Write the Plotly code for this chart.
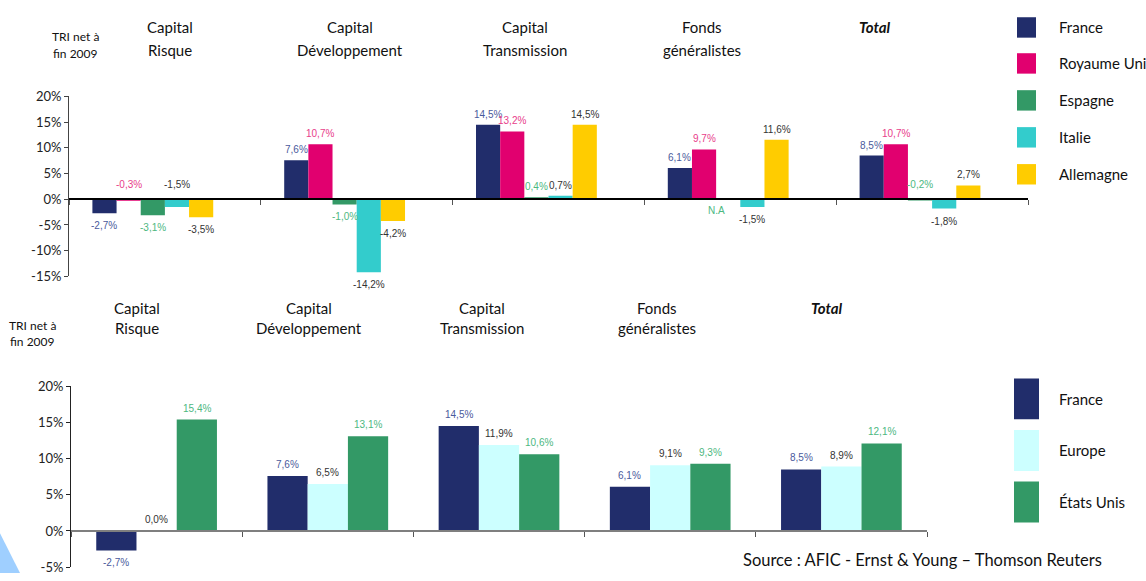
import plotly.graph_objects as go

W, H = 1146, 581

# ---------------- data ----------------
categories = ["Capital Risque", "Capital Développement", "Capital Transmission",
              "Fonds généralistes", "Total"]

top_series = ["France", "Royaume Uni", "Espagne", "Italie", "Allemagne"]
france_top = [-2.7, 7.6, 14.5, 6.1, 8.5]
uk_top = [-0.3, 10.7, 13.2, 9.7, 10.7]
espagne_top = [-3.1, -1.0, 0.4, None, -0.2]   # None = N.A
italie_top = [-1.5, -14.2, 0.7, -1.5, -1.8]
allemagne_top = [-3.5, -4.2, 14.5, 11.6, 2.7]

bottom_series = ["France", "Europe", "États Unis"]
france_bot = [-2.7, 7.6, 14.5, 6.1, 8.5]
europe_bot = [0.0, 6.5, 11.9, 9.1, 8.9]
usa_bot = [15.4, 13.1, 10.6, 9.3, 12.1]

top_yticks = [-15, -10, -5, 0, 5, 10, 15, 20]
bot_yticks = [-5, 0, 5, 10, 15, 20]

title_lines = [("Capital", "Risque"), ("Capital", "Développement"),
               ("Capital", "Transmission"), ("Fonds", "généralistes"), ("Total", None)]
ylabel_lines = ("TRI net à", "fin 2009")
source_text = "Source : AFIC - Ernst & Young – Thomson Reuters"

# ---------------- style ----------------
NAVY, MAG, GREEN, CYAN, YEL, LCYAN = "#212D6B", "#E1006F", "#339966", "#33CCCC", "#FFCC00", "#CCFFFF"
top_colors = [NAVY, MAG, GREEN, CYAN, YEL]
top_label_colors = ["#4A5A9C", "#E8408A", "#4DB87F", "#333333", "#333333"]
bot_colors = [NAVY, LCYAN, GREEN]
bot_label_colors = ["#4A5A9C", "#333333", "#4DB87F"]
# negative values whose label sits above the zero line
top_label_above_neg = {(1, 0), (3, 0), (2, 4)}

TFONT = "Lato, 'Open Sans', sans-serif"
LFONT = "'Liberation Sans', Arial, sans-serif"

def px(x):
    return x / W

def py(y):
    return 1 - y / H

top_xdom = [px(69), px(1028)]
top_ydom = [py(276), py(91)]
bot_xdom = [px(71), px(927)]
bot_ydom = [py(575), py(389)]
top_range = [-15, 20]
bot_range = [-5, 20]

top_slot = 0.126   # bar width in category units
top_nslots = 6
bot_slot = 0.235
bot_nslots = 3

fig = go.Figure()
annotations = []
shapes = []

def fmt(v):
    return f"{v:.1f}%".replace(".", ",")

def text_ann(xp, yp, text, size=15, family=TFONT, xanchor="center", color="#111"):
    return dict(x=px(xp), y=py(yp), xref="paper", yref="paper", showarrow=False,
                xanchor=xanchor, yanchor="middle", text=text,
                font=dict(family=family, size=size, color=color))

# ---------------- top chart ----------------
top_values = [france_top, uk_top, espagne_top, italie_top, allemagne_top]
gw = top_slot * top_nslots
for i, (name, vals) in enumerate(zip(top_series, top_values)):
    off = -gw / 2 + i * top_slot
    fig.add_trace(go.Bar(
        x=categories, y=vals, name=name, width=top_slot, offset=off,
        marker=dict(color=top_colors[i], line=dict(width=0)),
        xaxis="x", yaxis="y", showlegend=False, hoverinfo="skip"))
    for j, v in enumerate(vals):
        xc = j + off + top_slot / 2
        if v is None:
            annotations.append(dict(x=xc, y=0, xref="x", yref="y", text="N.A",
                                    showarrow=False, xanchor="center", yanchor="top",
                                    yshift=-4, xshift=-12,
                                    font=dict(family=LFONT, size=10, color=top_label_colors[i])))
            continue
        if v >= 0:
            y, ya, ys = v, "bottom", 3
        elif (i, j) in top_label_above_neg:
            y, ya, ys = 0, "bottom", 7
        else:
            y, ya, ys = v, "top", -5
        annotations.append(dict(x=xc, y=y, xref="x", yref="y", text=fmt(v),
                                showarrow=False, xanchor="center", yanchor=ya, yshift=ys,
                                font=dict(family=LFONT, size=10, color=top_label_colors[i])))

# ---------------- bottom chart ----------------
bot_values = [france_bot, europe_bot, usa_bot]
gw = bot_slot * bot_nslots
for i, (name, vals) in enumerate(zip(bottom_series, bot_values)):
    off = -gw / 2 + i * bot_slot
    fig.add_trace(go.Bar(
        x=categories, y=vals, name=name, width=bot_slot, offset=off,
        marker=dict(color=bot_colors[i], line=dict(width=0)),
        xaxis="x2", yaxis="y2", showlegend=False, hoverinfo="skip"))
    for j, v in enumerate(vals):
        xc = j + off + bot_slot / 2
        if v >= 0:
            y, ya, ys = v, "bottom", 4
        else:
            y, ya, ys = v, "top", -4
        annotations.append(dict(x=xc, y=y, xref="x2", yref="y2", text=fmt(v),
                                showarrow=False, xanchor="center", yanchor=ya, yshift=ys,
                                font=dict(family=LFONT, size=10, color=bot_label_colors[i])))

# ---------------- titles ----------------
top_title_x = [170, 350, 525, 702, 875]
bot_title_x = [137, 309, 482, 657, 827]
for tx, (l1, l2) in zip(top_title_x, title_lines):
    if l2 is None:
        annotations.append(text_ann(tx, 20, f"<b><i>{l1}</i></b>"))
    else:
        annotations.append(text_ann(tx, 20, l1))
        annotations.append(text_ann(tx, 43, l2))
for tx, (l1, l2) in zip(bot_title_x, title_lines):
    if l2 is None:
        annotations.append(text_ann(tx, 308, f"<b><i>{l1}</i></b>"))
    else:
        annotations.append(text_ann(tx, 308, l1))
        annotations.append(text_ann(tx, 329, l2))

annotations.append(text_ann(75, 29, ylabel_lines[0], size=12))
annotations.append(text_ann(75, 47, ylabel_lines[1], size=12))
annotations.append(text_ann(32, 326, ylabel_lines[0], size=12))
annotations.append(text_ann(32, 343, ylabel_lines[1], size=12))
annotations.append(text_ann(741, 568, source_text, size=16.5, xanchor="left"))

# ---------------- legends ----------------
top_leg_y = [20, 57, 95, 133, 171]
for name, c, yc in zip(top_series, top_colors, top_leg_y):
    shapes.append(dict(type="rect", xref="paper", yref="paper", x0=px(1017), x1=px(1036),
                       y0=py(yc + 10.5), y1=py(yc - 10.5), fillcolor=c, line=dict(width=0)))
    annotations.append(text_ann(1057, yc, name, size=15, xanchor="left"))
bot_leg_y = [402, 455, 508]
for name, c, yc in zip(bottom_series, bot_colors, bot_leg_y):
    shapes.append(dict(type="rect", xref="paper", yref="paper", x0=px(1014), x1=px(1039),
                       y0=py(yc + 21), y1=py(yc - 21), fillcolor=c, line=dict(width=0)))
    annotations.append(text_ann(1057, yc, name, size=15, xanchor="left"))

# decorative corner triangle
shapes.append(dict(type="path", xref="paper", yref="paper", layer="below",
                   path=f"M 0 {py(540)} L {px(20)} {py(581)} L 0 {py(581)} Z",
                   fillcolor="#9FCFFF", line=dict(width=0)))

def zero_pos(dom, rng):
    return dom[0] + (0 - rng[0]) / (rng[1] - rng[0]) * (dom[1] - dom[0])

def tick_text(vals):
    return [f"{v}%" for v in vals]

fig.update_layout(
    width=W, height=H, autosize=False,
    margin=dict(l=0, r=0, t=0, b=0),
    paper_bgcolor="white", plot_bgcolor="rgba(0,0,0,0)",
    barmode="overlay",
    showlegend=False,
    xaxis=dict(domain=top_xdom, type="category", categoryorder="array", categoryarray=categories,
               anchor="free", position=zero_pos(top_ydom, top_range),
               showline=True, linecolor="#000000", linewidth=1.5,
               ticks="outside", tickson="boundaries", ticklen=5, tickcolor="#555", tickwidth=1,
               showticklabels=False, showgrid=False, zeroline=False, fixedrange=True),
    yaxis=dict(domain=top_ydom, range=top_range, anchor="x",
               tickvals=top_yticks, ticktext=tick_text(top_yticks),
               showline=True, linecolor="#444", linewidth=1,
               ticks="outside", ticklen=4, tickcolor="#444",
               showgrid=False, zeroline=False,
               tickfont=dict(family=TFONT, size=13, color="#222")),
    xaxis2=dict(domain=bot_xdom, type="category", categoryorder="array", categoryarray=categories,
                anchor="free", position=zero_pos(bot_ydom, bot_range),
                showline=True, linecolor="#7F7F7F", linewidth=2,
                ticks="outside", tickson="boundaries", ticklen=5, tickcolor="#555", tickwidth=1,
                showticklabels=False, showgrid=False, zeroline=False),
    yaxis2=dict(domain=bot_ydom, range=bot_range, anchor="x2",
                tickvals=bot_yticks, ticktext=tick_text(bot_yticks),
                showline=True, linecolor="#222", linewidth=1,
                ticks="outside", ticklen=4, tickcolor="#222",
                showgrid=False, zeroline=False,
                tickfont=dict(family=TFONT, size=13, color="#222")),
    annotations=annotations,
    shapes=shapes,
)

fig.write_html("out.html", config={"displayModeBar": False},
               post_script="document.body.style.margin='0';")
